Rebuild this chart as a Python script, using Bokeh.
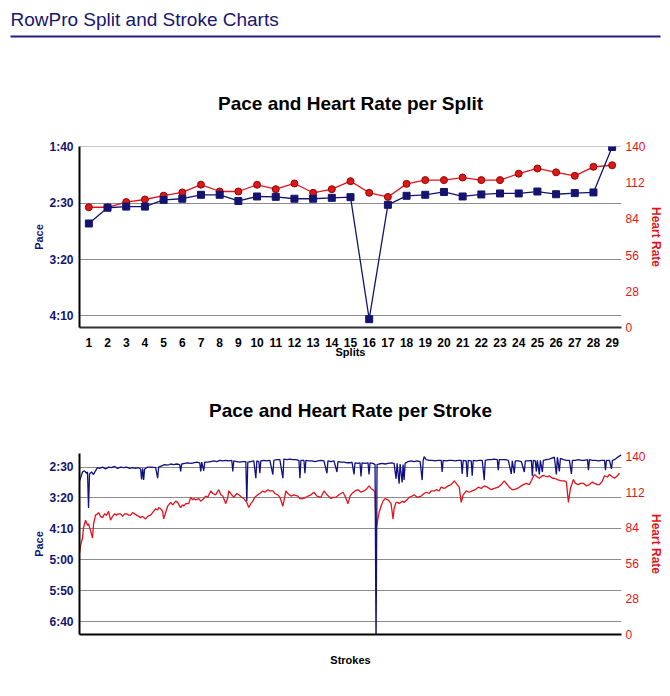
from bokeh.plotting import figure
from bokeh.models import Range1d, LinearAxis, FixedTicker, CustomJSTickFormatter
from bokeh.layouts import column, row
from bokeh.embed import file_html
from bokeh.resources import INLINE

# ---------------- data ----------------
header_text = "RowPro Split and Stroke Charts"
split_title = "Pace and Heart Rate per Split"
stroke_title = "Pace and Heart Rate per Stroke"

splits = list(range(1, 30))
split_pace = [168, 154, 153, 153, 147, 146, 142.5, 142.5, 148, 144, 144.3, 146, 146, 145.2,
              144.6, 253, 151.4, 143.4, 142.5, 140, 144, 142.2, 141.3, 141.3, 139.6, 142, 141, 140.4, 100]
split_hr = [93, 93, 97, 99, 102, 104.5, 110.5, 105.2, 105.2, 110.4, 107, 111.4, 104.2, 107,
            113.2, 104.2, 101, 111.1, 114, 114, 116, 114, 114, 119, 123, 120, 117.3, 124.3, 125.5]

split_pace_ticks = [100, 150, 200, 250]
stroke_pace_ticks = [150, 200, 250, 300, 350, 400]
hr_ticks = [0, 28, 56, 84, 112, 140]

stroke_no = [0, 2, 3, 5, 7, 8, 9, 10, 12, 14, 16, 18, 20, 23, 26, 29, 32, 35, 38, 41, 44, 47, 50, 53, 56, 59,
             61, 62, 63, 64, 65, 68, 72, 76, 78, 79, 82, 85, 88, 91, 94, 97, 100, 101, 102, 105, 108, 111,
             114, 117, 120, 121, 122, 124, 125, 128, 131, 134, 137, 140, 143, 146, 149, 152, 153, 154, 157,
             160, 163, 166, 167, 168, 171, 174, 176, 177, 179, 180, 181, 184, 187, 190, 193, 194, 197, 200,
             203, 204, 207, 210, 213, 216, 219, 220, 221, 224, 225, 226, 229, 232, 235, 238, 241, 244, 247,
             248, 251, 254, 257, 258, 261, 264, 267, 270, 272, 274, 275, 278, 280, 281, 282, 285, 288, 289,
             290, 293, 295, 296, 297, 299, 302, 305, 308, 311, 314, 316, 317, 319, 320, 322, 323, 324, 325,
             328, 331, 334, 337, 340, 342, 343, 344, 346, 349, 352, 355, 358, 361, 362, 363, 366, 369, 372,
             375, 378, 381, 382, 383, 386, 387, 388, 391, 392, 393, 396, 399, 402, 404, 405, 408, 411, 414,
             417, 418, 419, 422, 425, 428, 431, 432, 434, 435, 438, 441, 444, 445, 448, 451, 452, 453, 455,
             456, 457, 459, 460, 462, 463, 466, 469, 472, 474, 476, 477, 479, 480, 483, 486, 489, 491, 492,
             495, 498, 501, 504, 507, 508, 509, 512, 515, 518, 521, 524, 525, 526, 529, 531, 532, 535, 538, 541]
stroke_pace = [172, 163, 158, 156, 160, 158, 216, 161, 158, 162, 156, 151, 152, 150, 153, 150, 151, 149, 152,
               150, 151, 150, 152, 151, 152, 151, 153, 170, 152, 171, 153, 150, 150, 151, 168, 150, 148, 146,
               147, 145, 146, 145, 146, 157, 145, 144, 143, 144, 143, 142, 143, 157, 142, 156, 142, 142, 141,
               140, 141, 139, 140, 139, 140, 139, 157, 140, 141, 142, 141, 141, 205, 142, 141, 140, 168, 140,
               141, 160, 140, 139, 140, 139, 162, 139, 138, 138, 168, 137, 138, 137, 138, 138, 139, 168, 139,
               139, 160, 139, 140, 140, 141, 140, 139, 140, 160, 140, 141, 140, 158, 141, 142, 142, 143, 143,
               142, 162, 143, 144, 143, 165, 143, 144, 143, 162, 143, 144, 146, 440, 146, 145, 144, 145, 144,
               143, 144, 169, 144, 177, 145, 175, 146, 171, 144, 141, 140, 141, 140, 141, 171, 140, 133, 138,
               139, 139, 140, 139, 139, 158, 139, 140, 139, 139, 140, 139, 139, 161, 139, 140, 166, 139, 140,
               164, 139, 140, 139, 139, 171, 139, 138, 138, 137, 138, 155, 138, 138, 138, 139, 161, 140, 160,
               140, 140, 141, 158, 140, 140, 139, 164, 139, 140, 157, 139, 162, 139, 158, 139, 138, 137, 135,
               134, 162, 134, 157, 136, 138, 139, 139, 161, 139, 139, 138, 139, 139, 138, 155, 138, 139, 139,
               140, 139, 139, 155, 139, 139, 153, 139, 137, 133, 130]

hr_stroke_no = [0, 1, 3, 4, 6, 8, 9, 11, 13, 14, 16, 18, 19, 21, 23, 25, 27, 29, 31, 33, 35, 37, 39, 41, 43,
                45, 47, 49, 51, 53, 55, 57, 59, 61, 63, 66, 68, 71, 73, 76, 78, 79, 81, 83, 84, 86, 88, 90,
                91, 93, 94, 96, 98, 100, 101, 103, 104, 106, 109, 111, 113, 114, 116, 119, 121, 124, 126,
                128, 131, 133, 136, 138, 139, 141, 143, 146, 148, 149, 152, 154, 157, 159, 162, 164, 167,
                169, 171, 173, 175, 178, 180, 183, 185, 188, 190, 193, 195, 198, 200, 203, 205, 206, 208,
                211, 214, 218, 220, 223, 226, 228, 231, 234, 237, 241, 244, 247, 251, 253, 256, 259, 263,
                265, 268, 270, 272, 275, 278, 281, 284, 287, 289, 291, 293, 295, 296, 298, 299, 301, 303,
                305, 308, 310, 311, 313, 314, 316, 318, 319, 322, 324, 327, 329, 332, 334, 337, 341, 344,
                346, 349, 351, 354, 356, 359, 361, 364, 368, 371, 374, 377, 379, 381, 383, 386, 389, 392,
                395, 398, 401, 404, 407, 411, 414, 418, 421, 424, 427, 429, 432, 434, 437, 441, 443, 446,
                449, 451, 454, 457, 459, 462, 464, 467, 469, 472, 474, 477, 481, 484, 486, 488, 490, 493,
                495, 498, 500, 503, 506, 509, 512, 514, 517, 519, 522, 524, 527, 529, 532, 534, 537, 539]
stroke_hr = [64, 70, 76, 84, 90, 86, 87, 82, 76, 87, 94, 95, 96, 93, 92, 95, 94, 97, 90, 93, 95, 94, 95, 95,
             93, 95, 95, 94, 94, 96, 95, 94, 93, 92, 93, 91, 93, 94, 96, 99, 98, 100, 99, 97, 91, 96, 101,
             103, 104, 102, 103, 105, 104, 101, 100, 102, 101, 103, 103, 108, 106, 107, 106, 107, 105, 107,
             109, 108, 113, 111, 110, 113, 114, 110, 109, 103, 108, 113, 110, 108, 111, 110, 108, 107, 104,
             100, 103, 105, 108, 110, 111, 113, 112, 114, 113, 113, 111, 110, 108, 101, 109, 113, 111, 109,
             110, 109, 107, 107, 108, 109, 110, 112, 109, 108, 113, 110, 107, 108, 108, 110, 112, 109, 103,
             109, 111, 113, 114, 112, 113, 115, 117, 115, 114, 112, 82, 92, 96, 101, 105, 107, 106, 104,
             103, 91, 99, 104, 104, 103, 105, 104, 106, 108, 109, 110, 108, 109, 111, 112, 111, 113, 113,
             114, 113, 116, 115, 117, 118, 121, 118, 116, 104, 110, 113, 112, 113, 114, 116, 115, 117, 116,
             114, 115, 116, 118, 121, 118, 116, 114, 114, 115, 117, 118, 119, 118, 121, 126, 124, 123, 125,
             125, 124, 125, 123, 123, 122, 121, 121, 120, 104, 115, 122, 119, 118, 119, 119, 117, 118, 120,
             119, 118, 118, 121, 125, 124, 126, 124, 123, 125, 127]

# ---------------- style ----------------
FONT = "Liberation Sans"
NAVY = "#141470"
RED = "#e3131b"
GRID = "#8c8c8c"

pace_fmt = CustomJSTickFormatter(code="""
const m = Math.floor(tick / 60);
const s = Math.round(tick - m * 60);
return m + ':' + (s < 10 ? '0' + s : s);
""")


def style_common(p, title_standoff):
    p.title.align = "center"
    p.title.text_font = FONT
    p.title.text_font_size = "19px"
    p.title.text_font_style = "bold"
    p.title.text_color = "#000000"
    p.title.standoff = title_standoff
    p.outline_line_color = None
    p.xgrid.visible = False
    p.ygrid.grid_line_color = GRID
    p.ygrid.grid_line_width = 1
    la = p.yaxis[0]
    la.axis_line_color = "#000000"
    la.axis_line_width = 2
    la.major_tick_line_color = None
    la.minor_tick_line_color = None
    la.major_tick_out = 0
    la.major_tick_in = 0
    la.minor_tick_out = 0
    la.minor_tick_in = 0
    la.major_label_text_font = FONT
    la.major_label_text_font_size = "12px"
    la.major_label_text_font_style = "bold"
    la.major_label_text_color = NAVY
    la.major_label_standoff = 6
    la.axis_label = "Pace"
    la.axis_label_text_font = FONT
    la.axis_label_text_font_size = "11px"
    la.axis_label_text_font_style = "bold"
    la.axis_label_text_color = NAVY
    la.axis_label_standoff = 1
    la.formatter = pace_fmt
    ra = LinearAxis(y_range_name="hr", ticker=FixedTicker(ticks=hr_ticks))
    ra.axis_line_color = None
    ra.major_tick_line_color = None
    ra.minor_tick_line_color = None
    ra.major_tick_out = 0
    ra.major_tick_in = 0
    ra.minor_tick_out = 0
    ra.minor_tick_in = 0
    ra.major_label_text_font = FONT
    ra.major_label_text_font_size = "12px"
    ra.major_label_text_color = RED
    ra.major_label_standoff = 4
    ra.axis_label = "Heart Rate"
    ra.axis_label_text_font = FONT
    ra.axis_label_text_font_size = "12px"
    ra.axis_label_text_font_style = "bold"
    ra.axis_label_text_color = RED
    ra.axis_label_standoff = 0
    p.add_layout(ra, "right")
    bx = p.xaxis[0]
    bx.axis_line_color = "#333333"
    bx.axis_line_width = 2
    bx.major_tick_line_color = None
    bx.minor_tick_line_color = None
    bx.major_tick_out = 0
    bx.major_tick_in = 0
    bx.minor_tick_out = 0
    bx.minor_tick_in = 0
    bx.axis_label_text_font = FONT
    bx.axis_label_text_font_size = "11px"
    bx.axis_label_text_font_style = "bold"
    bx.axis_label_text_color = "#000000"


# ---------------- header ----------------
p0 = figure(width=665, height=39, x_range=Range1d(0, 1), y_range=Range1d(0, 1),
            output_backend="svg", toolbar_location=None,
            x_axis_location=None, y_axis_location=None,
            min_border_left=10, min_border_right=5, min_border_top=35, min_border_bottom=2,
            title=header_text)
p0.grid.visible = False
p0.outline_line_color = None
p0.background_fill_color = "#1e1e8c"
p0.title.align = "left"
p0.title.text_font = FONT
p0.title.text_font_size = "19px"
p0.title.text_font_style = "normal"
p0.title.text_color = "#16166e"
p0.title.standoff = 11

# ---------------- split chart ----------------
p1 = figure(width=665, height=322, x_range=Range1d(0.5, 29.5), y_range=Range1d(260.4, 99.6),
            output_backend="svg", toolbar_location=None,
            min_border_left=79, min_border_right=44, min_border_top=107, min_border_bottom=34,
            title=split_title)
p1.extra_y_ranges = {"hr": Range1d(0, 140)}
style_common(p1, 66)
p1.yaxis[0].ticker = FixedTicker(ticks=split_pace_ticks)
p1.xaxis[0].ticker = FixedTicker(ticks=splits)
p1.xaxis[0].major_label_text_font = FONT
p1.xaxis[0].major_label_text_font_size = "12px"
p1.xaxis[0].major_label_text_font_style = "bold"
p1.xaxis[0].major_label_text_color = "#000000"
p1.xaxis[0].major_label_standoff = 10
p1.xaxis[0].axis_label = "Splits"
p1.xaxis[0].axis_label_standoff = -4

p1.line(splits, split_hr, y_range_name="hr", line_color=RED, line_width=1.3)
p1.scatter(splits, split_hr, y_range_name="hr", marker="circle", size=7,
           fill_color="#d91a1a", line_color="#9a0000", line_width=1)
p1.line(splits, split_pace, line_color=NAVY, line_width=1.3)
p1.scatter(splits, split_pace, marker="square", size=7, fill_color=NAVY, line_color=NAVY)

# ---------------- stroke chart ----------------
p2 = figure(width=665, height=329, x_range=Range1d(0, 541), y_range=Range1d(421, 128),
            output_backend="svg", toolbar_location=None,
            min_border_left=79, min_border_right=44, min_border_top=92, min_border_bottom=56,
            title=stroke_title)
p2.extra_y_ranges = {"hr": Range1d(0, 142.5)}
style_common(p2, 66)
p2.yaxis[0].ticker = FixedTicker(ticks=stroke_pace_ticks)
p2.xaxis[0].ticker = FixedTicker(ticks=[])
p2.xaxis[0].major_label_text_font_size = "0px"
p2.xaxis[0].major_label_standoff = 0
p2.xaxis[0].axis_label = "Strokes"
p2.xaxis[0].axis_label_standoff = 19
p2.xaxis[0].axis_line_color = "#000000"

p2.line(hr_stroke_no, stroke_hr, y_range_name="hr", line_color=RED, line_width=1.3)
p2.line(stroke_no, stroke_pace, line_color="#101080", line_width=1.3)

layout = column(row(p0), p1, p2, spacing=0)
open("out.html", "w").write(file_html(layout, INLINE))
